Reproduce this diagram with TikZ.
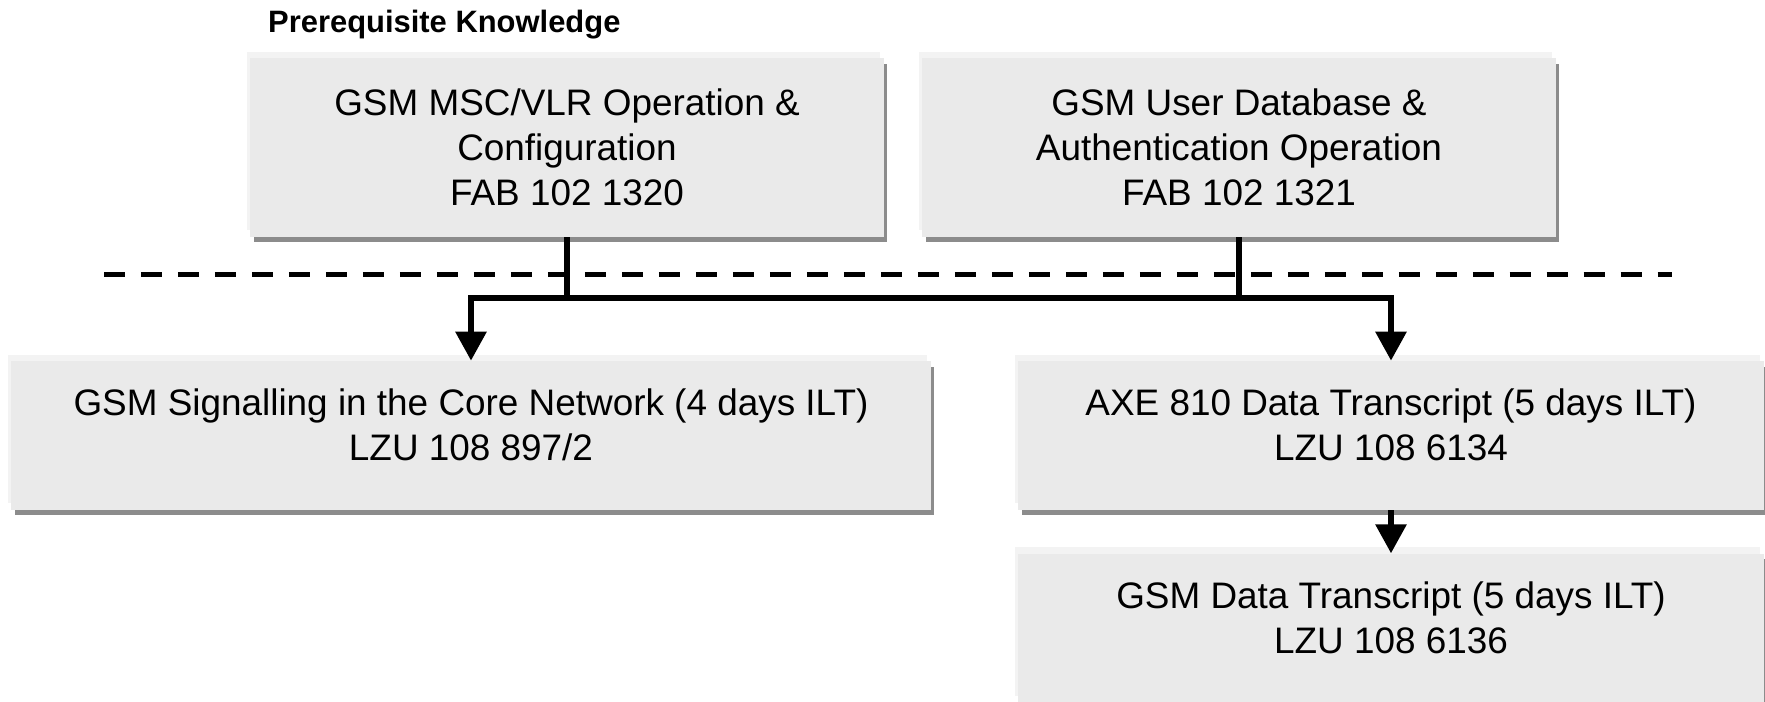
\documentclass[tikz,border=0pt]{standalone}
\usepackage{fontspec}
\setmainfont{Liberation Sans}
\usetikzlibrary{positioning,shadows,arrows.meta}
\definecolor{boxfill}{HTML}{EAEAEA}
\definecolor{boxlight}{HTML}{F3F3F3}
\definecolor{boxshade}{HTML}{8C8C8C}

\begin{document}
\begin{tikzpicture}[x=0.02cm,y=-0.02cm,
box/.style={rectangle,fill=boxfill,inner sep=0pt,align=center,
    font=\fontsize{21}{25.6}\selectfont,
    general shadow={fill=boxlight,shadow xshift=-0.07cm,shadow yshift=0.13cm},
    general shadow={fill=boxshade,shadow xshift=0.07cm,shadow yshift=-0.11cm}},
topbox/.style={box,minimum width=12.68cm,minimum height=3.58cm},
lowbox/.style={box,minimum height=2.98cm,text depth=12.5pt},
link/.style={line width=0.12cm},
arrow/.style={link,-{Triangle[width=0.6cm,length=0.58cm]}}]
\useasboundingbox (0,0) rectangle (1765,702);

\node (title) [anchor=base west,font=\bfseries\fontsize{17.6}{20}\selectfont] at (262,33) {Prerequisite Knowledge};

\node (msc) [topbox] at (567,147.5) {GSM MSC/VLR Operation \&\\Configuration\\FAB 102 1320};
\node (udb) [topbox] at (1239,147.5) {GSM User Database \&\\Authentication Operation\\FAB 102 1321};

\node (sig) [lowbox,minimum width=18.4cm] at (471,435.5) {GSM Signalling in the Core Network (4 days ILT)\\LZU 108 897/2};
\node (axe) [lowbox,minimum width=14.92cm] at (1391,435.5) {AXE 810 Data Transcript (5 days ILT)\\LZU 108 6134};
\node (gdt) [lowbox,minimum width=14.92cm,below=0.86cm of axe] {GSM Data Transcript (5 days ILT)\\LZU 108 6136};

\draw[line width=0.1cm,dash pattern=on 0.42cm off 0.32cm] (104,274.5) -- (1672,274.5);

\coordinate (bus) at (0,298);
\draw[arrow] (msc.south) |- (udb.south |- bus) -| (axe.north);
\draw[arrow] (udb.south) |- (msc.south |- bus) -| (sig.north);
\draw[arrow] (axe) -- (gdt);
\end{tikzpicture}
\end{document}
